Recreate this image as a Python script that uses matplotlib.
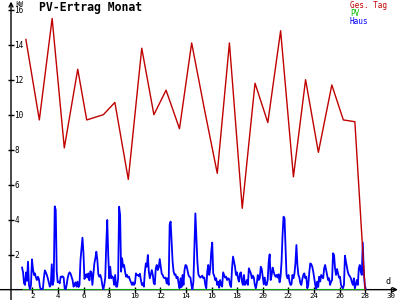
import numpy as np
import matplotlib
matplotlib.use("Agg")
import matplotlib.pyplot as plt

# ---- Daten ----
# Tageswerte "Ges. Tag" (kW), Tagesposition auf der x-Achse (d)
tag_x = [1.5, 2.55, 3.55, 4.5, 5.55, 6.25, 7.55, 8.45, 9.5, 10.55, 11.5, 12.45, 13.5, 14.45,
         15.45, 16.45, 17.4, 18.4, 19.4, 20.4, 21.4, 22.4, 23.35, 24.35, 25.4, 26.3, 27.2, 28.0]
tag_kw = [14.3, 9.7, 15.5, 8.1, 12.6, 9.7, 10.0, 10.7, 6.3, 13.8, 10.0, 11.4, 9.2, 14.1,
          10.3, 6.65, 14.1, 4.65, 11.8, 9.55, 14.8, 6.45, 12.0, 7.85, 11.7, 9.7, 9.6, 0.0]

# Hausverbrauch (kW), gleichmaessig abgetastet von haus_start bis haus_end
haus_start, haus_end = 1.2, 28.05
haus_kw = [
    1.26, 0.99, 0.36, 0.27, 0.99, 0.50, 1.60, 0.27, 0.0, 0.27, 1.73, 1.18, 0.84, 0.93, 0.69, 0.55,
    0.74, 0.61, 0.17, 0.0, 0.04, 0.04, 0.65, 1.10, 0.99, 0.84, 0.65, 0.42, 0.17, 0.27, 1.45, 0.27,
    0.55, 4.76, 4.55, 1.03, 0.42, 0.46, 0.36, 0.74, 0.74, 0.76, 0.69, 0.08, 0.0, 0.27, 0.65, 0.88,
    0.99, 0.91, 0.74, 0.55, 0.17, 0.27, 0.42, 0.17, 0.46, 0.15, 0.27, 1.70, 2.36, 2.97, 2.08, 0.61,
    0.76, 0.88, 0.69, 0.93, 0.53, 1.05, 0.99, 0.27, 0.88, 1.50, 1.79, 2.17, 1.70, 0.88, 0.74, 0.84,
    0.65, 0.27, 0.0, 0.27, 0.69, 2.55, 3.98, 1.98, 0.65, 1.31, 0.65, 0.76, 0.69, 0.27, 0.84, 0.17,
    0.17, 0.65, 4.74, 4.27, 1.03, 1.79, 1.31, 1.41, 1.03, 0.74, 0.84, 0.69, 0.74, 0.55, 0.42, 0.27,
    0.42, 0.27, 0.36, 0.93, 0.84, 0.84, 0.76, 0.91, 0.55, 0.27, 0.36, 0.17, 1.03, 1.50, 1.31, 1.98,
    1.03, 0.65, 0.88, 1.12, 0.84, 0.36, 0.30, 1.22, 1.41, 1.12, 1.26, 1.75, 1.31, 0.91, 0.84, 0.69,
    0.65, 0.69, 0.36, 0.65, 0.27, 3.70, 3.89, 2.74, 1.60, 1.03, 0.84, 0.88, 0.65, 0.74, 0.36, 0.08,
    0.65, 0.15, 0.84, 0.27, 1.12, 1.41, 1.37, 1.12, 0.84, 0.74,
    0.69, 0.27, 0.0, 0.46, 2.36, 4.36, 2.93, 1.60, 0.88, 0.76, 0.69, 0.74, 0.80, 0.65, 0.69, 0.27,
    0.08, 1.03, 1.41, 0.84, 1.18, 2.17, 2.69, 0.93, 0.80, 0.55, 0.65, 0.27, 0.46, 0.11, 0.55, 0.27,
    0.17, 0.99, 0.84, 0.69, 0.74, 0.55, 0.65, 0.61, 0.27, 0.15, 1.22, 1.89, 1.60, 1.31, 0.84, 0.99,
    0.65, 0.46, 0.93, 0.99, 0.46, 0.27, 0.84, 0.27, 0.36, 0.55, 0.27, 1.22, 1.07, 0.93, 0.65, 0.80,
    0.69, 0.27, 0.08, 0.36, 0.84, 0.55, 0.65, 1.31, 1.18, 0.74, 0.30, 0.69, 0.27, 0.27, 0.55, 1.60,
    2.02, 0.55, 0.84, 1.26, 1.03, 0.84, 0.74, 0.84, 0.69, 0.88, 0.42, 0.74, 1.60, 3.12, 4.17, 4.08,
    2.40, 0.84, 0.65, 0.84, 0.46, 0.27, 0.30, 0.84, 0.65, 0.91, 1.50, 2.55, 1.41, 0.84, 0.69, 0.36,
    0.27, 0.61, 0.84, 0.93, 0.65, 0.74, 0.08, 0.27, 0.99, 1.50, 1.45, 1.31, 1.03, 0.65, 0.27, 0.04,
    0.46, 0.15, 0.74, 0.46, 0.84, 0.74, 0.65, 1.22, 1.41, 1.12, 0.84, 0.55, 0.65, 0.27, 0.46, 0.55,
    2.08, 1.98, 1.22, 0.84, 1.18, 0.93, 0.69, 0.74, 0.27, 0.15, 0.08, 0.27, 1.94, 1.60, 1.31, 0.99,
    0.84, 0.76, 0.65, 0.42, 0.27, 0.65, 0.08, 0.30, 0.55, 0.27, 1.22, 1.41, 1.03, 0.84, 2.69, 1.03,
    0.27, 0.0,
]

# PV-Ertrag (kW) - im ganzen Monat null
pv_x = [1.2, 28.05]
pv_kw = [0.0, 0.0]

x_ticks = list(range(2, 31, 2))
y_ticks = list(range(2, 17, 2))

RED = "#c00000"
GREEN = "#00c000"
BLUE = "#0000ff"

plt.rcParams["font.family"] = ["DejaVu Sans Mono"]

fig = plt.figure(figsize=(4, 3), dpi=100)
fig.patch.set_facecolor("white")
# Achsenbereich in Pixeln: y-Achse bei x=11, x-Achse bei y=290
ax = fig.add_axes([11 / 400, 10 / 300, 387 / 400, 285 / 300])
ax.set_xlim(0.336, 30.57)
ax.set_ylim(-0.02, 16.27)

for s in ax.spines.values():
    s.set_visible(False)

haus_x = np.linspace(haus_start, haus_end, len(haus_kw))
ax.plot(pv_x, pv_kw, color=GREEN, lw=2.0, solid_capstyle="butt", zorder=3)
ax.plot(haus_x, haus_kw, color=BLUE, lw=1.3, zorder=4)
ax.plot(tag_x, tag_kw, color=RED, lw=1.0, zorder=5)

# Achsen mit Pfeilen
arrow = dict(arrowstyle="->", lw=1.0, color="black", shrinkA=0, shrinkB=0, mutation_scale=7)
ax.annotate("", xy=(1.0, 0.0), xycoords=("axes fraction", "data"),
            xytext=(-0.03, 0.0), textcoords=("axes fraction", "data"), arrowprops=arrow, zorder=2)
ax.annotate("", xy=(0.0, 1.012), xycoords="axes fraction",
            xytext=(0.0, -0.035), textcoords="axes fraction", arrowprops=arrow, zorder=2)

ax.set_xticks(x_ticks)
ax.set_xticklabels([str(t) for t in x_ticks])
ax.set_yticks(y_ticks)
ax.set_yticklabels([str(t) for t in y_ticks])
ax.tick_params(axis="x", direction="inout", length=4.5, width=1, pad=-0.2, labelsize=5.4)
ax.tick_params(axis="y", direction="inout", length=4.0, width=1, pad=-4.4, labelsize=5.6)
for lbl in ax.get_yticklabels():
    lbl.set_ha("left")

# Beschriftungen
fig.text(39 / 400, 1 - 1.5 / 300, "PV-Ertrag Monat", fontsize=8.3, fontweight="bold",
         va="top", ha="left")
fig.text(15 / 400, 1 - 1.5 / 300, "kW", fontsize=4.8, va="top", ha="left")
fig.text(385 / 400, 1 - 277 / 300, "d", fontsize=6, va="top", ha="left")
fig.text(350 / 400, 1 - 1.0 / 300, "Ges. Tag", fontsize=5.6, color=RED, va="top", ha="left")
fig.text(350 / 400, 1 - 9.0 / 300, "PV", fontsize=5.6, color=GREEN, va="top", ha="left")
fig.text(350 / 400, 1 - 17.0 / 300, "Haus", fontsize=5.6, color=BLUE, va="top", ha="left")

fig.savefig("out.png", dpi=100, facecolor="white")
